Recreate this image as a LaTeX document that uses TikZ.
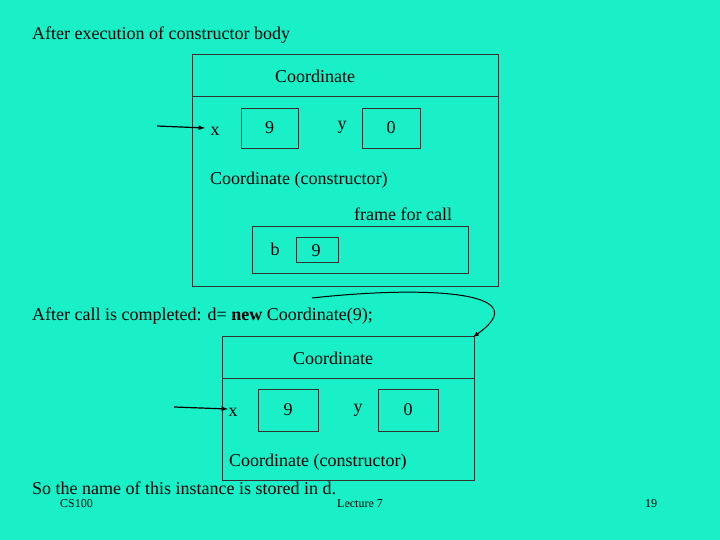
\documentclass[tikz,border=0pt]{standalone}
\usepackage{fontspec}
\setmainfont{Liberation Serif}
\begin{document}
\begin{tikzpicture}[x=1pt,y=-1pt,
  box/.style={draw=black!80,line width=0.8pt},
  txt/.style={font=\fontsize{18}{20}\selectfont,inner sep=0pt},
  lbl/.style={txt,anchor=west},
  foot/.style={font=\fontsize{12}{14}\selectfont,inner sep=0pt},
  arr/.style={-latex,line width=1.2pt}]
\definecolor{bg}{RGB}{25,240,200}
\fill[bg] (0,0) rectangle (720,540);
\useasboundingbox (0,0) rectangle (720,540);
\node[lbl] (t1) at (32,35) {After execution of constructor body};
% frame 1
\draw[box] (192,54) rectangle (498,286);
\draw[box] (192,96) -- (498,96);
\node[txt] (c1) at (315,76) {Coordinate};
\coordinate (a1s) at (157,126);
\coordinate (a1e) at (205,128);
\draw[arr] (a1s) -- (a1e);
\node[txt] (x1) at (215,131) {x};
\node[box,minimum width=57pt,minimum height=40pt] (b9a) at (269.5,128) {};
\node[txt] at (b9a) {9};
\node[txt] (y1) at (342,127) {y};
\node[box,minimum width=58pt,minimum height=40pt] (b0a) at (391,128) {};
\node[txt] at (b0a) {0};
\node[lbl] (cc1) at (210,180) {Coordinate (constructor)};
\node[lbl] (ffc) at (354,214) {frame for call};
\draw[box] (252,226) rectangle (468,273);
\node[txt] (bl) at (275,249) {b};
\node[box,minimum width=42pt,minimum height=25pt] (bb) at (317,249.5) {};
\node[txt] at (316,251) {9};
% middle line
\node[lbl] (t2) at (32,316) {After call is completed: d= \textbf{new} Coordinate(9);};
% frame 2
\draw[box] (222,336) rectangle (474,480);
\draw[box] (222,378) -- (474,378);
\node[txt] (c2) at (333,358) {Coordinate};
\coordinate (tip) at (473,337);
\coordinate (cs) at (312,298);
\draw[arr,line width=1pt] (cs) .. controls (420,286) and (540,290) .. (tip);
\coordinate (a2s) at (174,407);
\coordinate (a2e) at (228,409);
\draw[arr] (a2s) -- (a2e);
\node[txt] (x2) at (233,412) {x};
\node[box,minimum width=60pt,minimum height=42pt] (b9b) at (288,410) {};
\node[txt] at (b9b) {9};
\node[txt] (y2) at (358,410) {y};
\node[box,minimum width=60pt,minimum height=42pt] (b0b) at (408,410) {};
\node[txt] at (b0b) {0};
\node[lbl] (cc2) at (229,462) {Coordinate (constructor)};
\node[lbl] (t3) at (32,488) {So the name of this instance is stored in d.};
\node[foot,anchor=west] (f1) at (60,504) {CS100};
\node[foot] (f2) at (360,504) {Lecture 7};
\node[foot] (f3) at (651,504) {19};
\end{tikzpicture}
\end{document}
